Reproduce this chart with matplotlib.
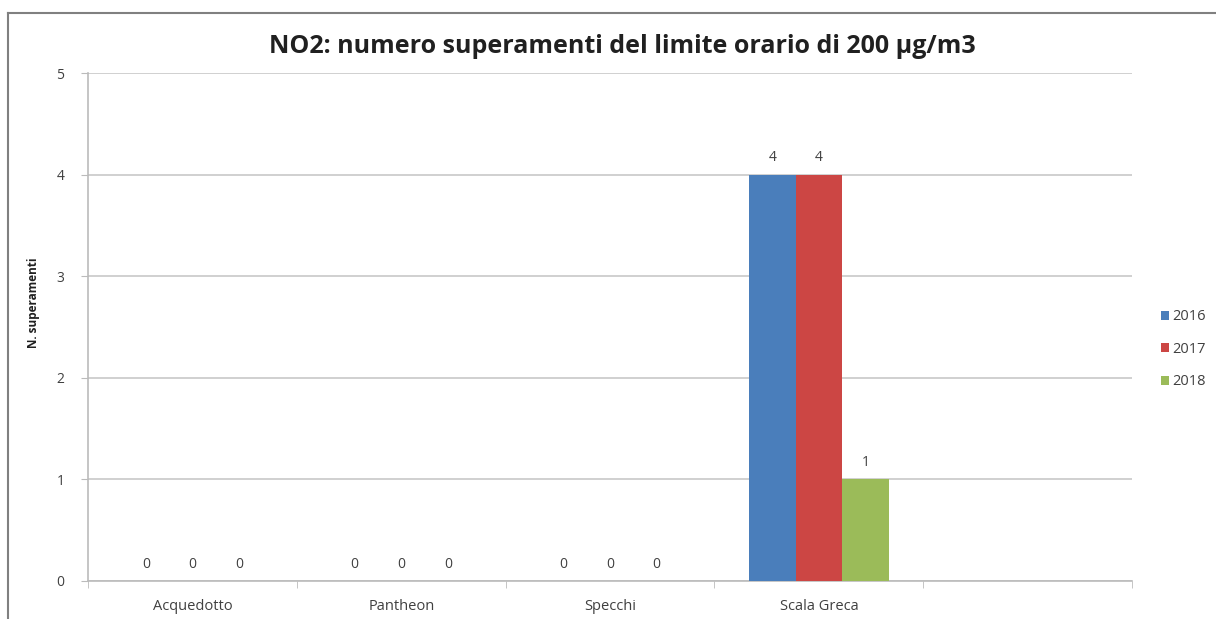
import numpy as np
import matplotlib
matplotlib.use("Agg")
import matplotlib.pyplot as plt
from matplotlib.lines import Line2D

# stations (the last slot is empty in the original chart)
stations = ["Acquedotto", "Pantheon", "Specchi", "Scala Greca", ""]
years = ["2016", "2017", "2018"]
v2016 = [0, 0, 0, 4, None]
v2017 = [0, 0, 0, 4, None]
v2018 = [0, 0, 0, 1, None]
colors = ["#4A7EBB", "#CC4644", "#9BBB59"]

plt.rcParams['font.family'] = ['Open Sans', 'DejaVu Sans']

fig = plt.figure(figsize=(12.16, 6.19), dpi=100)
ax = fig.add_axes([0.0724, 0.0614, 0.931 - 0.0724, 0.882 - 0.0614])

x = np.arange(len(stations))
width = 0.223
series = [v2016, v2017, v2018]
for i, (vals, yr, c) in enumerate(zip(series, years, colors)):
    off = (i - 1) * width
    xs = [xx + off for xx, v in zip(x, vals) if v is not None]
    vs = [v for v in vals if v is not None]
    ax.bar(xs, vs, width=width, color=c, label=yr, zorder=3)
    for xx, v in zip(xs, vs):
        ax.annotate(str(v), (xx, v), xytext=(0, 12), textcoords="offset points",
                    ha="center", va="center", fontsize=10, color="#404040")

ax.set_xlim(-0.5, len(stations) - 0.5)
ax.set_ylim(0, 5)
ax.set_yticks(range(6))
ax.yaxis.grid(True, color="#C8C8C8", linewidth=1.2, zorder=0)
ax.set_axisbelow(True)

ax.set_xticks(x)
ax.set_xticklabels(stations, fontsize=10.5, color="#404040")
ax.set_xticks(np.arange(-0.5, len(stations)), minor=True)
ax.tick_params(axis="x", which="major", length=0, pad=13)
ax.tick_params(axis="x", which="minor", length=5, color="#BBBBBB")
ax.tick_params(axis="y", length=5, color="#BBBBBB", labelsize=10,
               labelcolor="#404040", pad=12)

for s in ["top", "right"]:
    ax.spines[s].set_visible(False)
for s in ["left", "bottom"]:
    ax.spines[s].set_color("#BBBBBB")
    ax.spines[s].set_linewidth(1.2)

ax.set_ylabel("N. superamenti", fontsize=8.5, fontweight="bold", color="#202020")
ax.yaxis.set_label_coords(-0.046, 0.547)
fig.text(0.512, 0.925, "NO2: numero superamenti del limite orario di 200 µg/m3",
         ha="center", va="center", fontsize=18, fontweight="bold", color="#202020")

leg = ax.legend(loc="center left", bbox_to_anchor=(1.015, 0.456), frameon=False,
                fontsize=10.5, handlelength=0.55, handleheight=0.55, handletextpad=0.25,
                labelspacing=1.2, labelcolor="#404040")

# outer frame of the original screenshot (left and top edges)
fig.add_artist(Line2D([0.0066, 0.0066], [0, 0.979], color="#808080", linewidth=1.5))
fig.add_artist(Line2D([0.0066, 1], [0.979, 0.979], color="#808080", linewidth=1.5))

fig.savefig("out.png", dpi=100)
